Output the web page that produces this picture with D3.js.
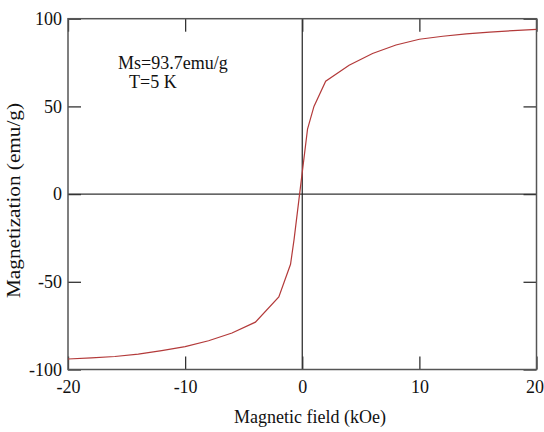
<!DOCTYPE html>
<html>
<head>
<meta charset="utf-8">
<script src="https://cdn.jsdelivr.net/npm/d3@7"></script>
<style>
  body { margin: 0; background: #fff; }
  svg text { font-family: "Liberation Serif", "Times New Roman", serif; fill: #111; }
</style>
</head>
<body>
<svg id="chart"></svg>
<script>
(function() {

    // Field (kOe) and magnetization (emu/g)
    const field = [-20, -18, -16, -14, -12, -10, -8, -6, -4, -2, -1, -0.7, 0.45, 1, 2, 4, 6, 8, 10, 12, 14, 16, 18, 20];
    const magnetization = [-94, -93.4, -92.6, -91.2, -89.2, -87, -83.6, -79.2, -73, -58.6, -40, -26, 37, 50, 64.4, 73.5, 80.2, 85, 88.3, 90, 91.3, 92.3, 93.2, 93.9];

    const xTicks = [-20, -10, 0, 10, 20];
    const yTicks = [-100, -50, 0, 50, 100];
    const notes = ['Ms=93.7emu/g', 'T=5 K'];

    const w = 544;
    const h = 432;
    const left = 68, right = 536.5, top = 18.7, bottom = 369.5;

    const x = d3.scaleLinear().domain([-20, 20]).range([left, right]);
    const y = d3.scaleLinear().domain([-100, 100]).range([bottom, top]);

    const svg = d3.select('#chart')
        .attr('width', w)
        .attr('height', h);

    // zero lines
    svg.append('line')
        .attr('x1', x(-20)).attr('x2', x(20))
        .attr('y1', y(0)).attr('y2', y(0))
        .attr('stroke', '#333').attr('stroke-width', 1.2);
    svg.append('line')
        .attr('x1', x(0)).attr('x2', x(0))
        .attr('y1', y(-100)).attr('y2', y(100))
        .attr('stroke', '#222').attr('stroke-width', 1.2);

    // inward ticks on all four sides, plain hyphen for negatives
    const tick = 13;
    const fmt = d => String(d);
    const styleAxis = g => {
        g.select('.domain').remove();
        g.selectAll('.tick line').attr('stroke', '#333').attr('stroke-width', 1.3);
        g.selectAll('.tick text').attr('font-size', 18).attr('fill', '#111')
            .style('font-family', '"Liberation Serif", serif');
    };

    const xAxis = svg.append('g')
        .attr('transform', `translate(0,${bottom})`)
        .call(d3.axisBottom(x).tickValues(xTicks).tickSize(-tick).tickPadding(11).tickFormat(fmt))
        .call(styleAxis);
    // last label sits against the window edge
    xAxis.selectAll('.tick text').filter(d => d === 20).attr('dx', -2);

    svg.append('g')
        .attr('transform', `translate(0,${top})`)
        .call(d3.axisTop(x).tickValues(xTicks).tickSize(-tick).tickFormat(''))
        .call(styleAxis);
    svg.append('g')
        .attr('transform', `translate(${left},0)`)
        .call(d3.axisLeft(y).tickValues(yTicks).tickSize(-tick).tickPadding(6).tickFormat(fmt))
        .call(styleAxis);
    svg.append('g')
        .attr('transform', `translate(${right},0)`)
        .call(d3.axisRight(y).tickValues(yTicks).tickSize(-tick).tickFormat(''))
        .call(styleAxis);

    // frame
    svg.append('rect')
        .attr('x', left).attr('y', top)
        .attr('width', right - left).attr('height', bottom - top)
        .attr('fill', 'none')
        .attr('stroke', '#555')
        .attr('stroke-width', 1.5);

    // M-H curve
    const line = d3.line()
        .x((d, i) => x(field[i]))
        .y((d, i) => y(magnetization[i]));

    svg.append('path')
        .datum(field)
        .attr('d', line)
        .attr('fill', 'none')
        .attr('stroke', '#b33a3a')
        .attr('stroke-width', 1.2);

    // annotation
    svg.append('text')
        .attr('x', 118).attr('y', 68.5)
        .attr('font-size', 18)
        .text(notes[0]);
    svg.append('text')
        .attr('x', 129).attr('y', 87.5)
        .attr('font-size', 18)
        .text(notes[1]);

    // axis titles
    svg.append('text')
        .attr('x', 310).attr('y', 423)
        .attr('text-anchor', 'middle')
        .attr('font-size', 18)
        .text('Magnetic field (kOe)');

    svg.append('text')
        .attr('transform', 'translate(20,200.5) rotate(-90)')
        .attr('text-anchor', 'middle')
        .attr('font-size', 18)
        .attr('textLength', 195)
        .attr('lengthAdjust', 'spacingAndGlyphs')
        .text('Magnetization (emu/g)');

})();
</script>
</body>
</html>
